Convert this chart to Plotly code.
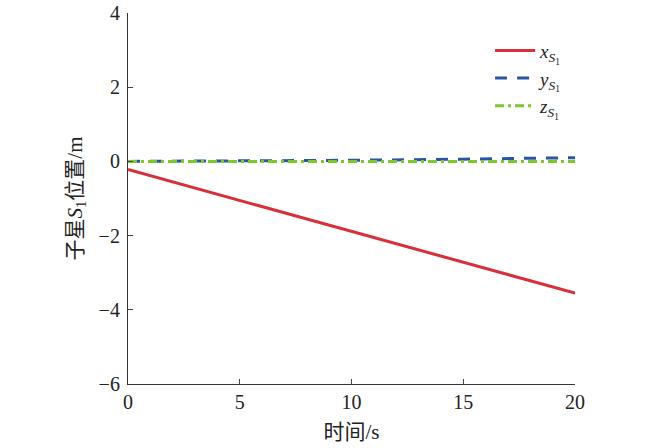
import plotly.graph_objects as go

# 时间 (s)
t = [0, 5, 10, 15, 20]
# 子星S1位置 (m)
x_s1 = [-0.22, -1.05, -1.88, -2.71, -3.55]
y_s1 = [0.0, 0.01, 0.03, 0.06, 0.1]
z_s1 = [0.0, 0.0, 0.0, 0.0, 0.0]

x_ticks = [0, 5, 10, 15, 20]
y_ticks = [-6, -4, -2, 0, 2, 4]
y_tick_text = ["\u22126", "\u22124", "\u22122", "0", "2", "4"]

serif = "Liberation Serif, Noto Sans CJK SC, serif"

fig = go.Figure()
fig.add_trace(go.Scatter(x=t, y=x_s1, mode="lines",
                         name="<i>x</i><sub><i>S</i><sub>1</sub></sub>",
                         line=dict(color="#d7303a", width=3)))
fig.add_trace(go.Scatter(x=t, y=y_s1, mode="lines",
                         name="<i>y</i><sub><i>S</i><sub>1</sub></sub>",
                         line=dict(color="#2a55a5", width=3, dash="12px,10px")))
fig.add_trace(go.Scatter(x=t, y=z_s1, mode="lines",
                         name="<i>z</i><sub><i>S</i><sub>1</sub></sub>",
                         line=dict(color="#7cc82e", width=3, dash="9px,4px,3px,4px")))

fig.update_layout(
    width=650, height=448,
    margin=dict(l=128, r=75, t=13, b=64),
    paper_bgcolor="white", plot_bgcolor="white",
    font=dict(family=serif, size=20, color="#222"),
    showlegend=True,
    legend=dict(x=0.81, y=0.95, xanchor="left", yanchor="top",
                bgcolor="rgba(0,0,0,0)", font=dict(size=19),
                itemwidth=40, tracegroupgap=0),
    xaxis=dict(range=[0, 20], tickvals=x_ticks, ticks="inside", ticklen=5,
               showline=True, linecolor="#333", linewidth=1.2, showgrid=False,
               zeroline=False, automargin=False,
               title=dict(text="时间/s", standoff=12, font=dict(size=21))),
    yaxis=dict(range=[-6, 4], tickvals=y_ticks, ticktext=y_tick_text,
               ticks="inside", ticklen=5, ticklabelstandoff=3,
               ticklabeloverflow="allow",
               showline=True, linecolor="#333", linewidth=1.2, showgrid=False,
               zeroline=False, automargin=False,
               title=dict(text="子星<i>S</i><sub>1</sub>位置/m", standoff=10,
                          font=dict(size=21))),
)

# drop the default body margin so the figure sits at the page corner
fig.write_html("out.html", config={"displayModeBar": False},
               post_script="document.body.style.margin='0';")
